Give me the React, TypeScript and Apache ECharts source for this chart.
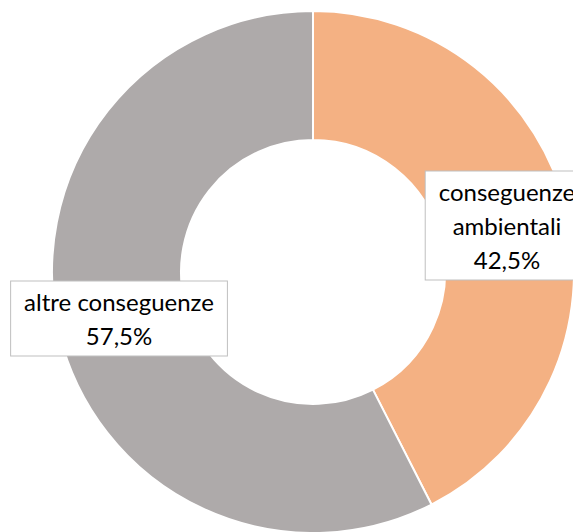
import React, { useEffect, useRef } from "react";
import * as echarts from "echarts";

const categories = ["conseguenze\nambientali", "altre conseguenze"];
const values = [42.5, 57.5];
const colors = ["#F4B183", "#AEAAAA"];

export default function App() {
  const ref = useRef<HTMLDivElement>(null);
  useEffect(() => {
    document.body.style.margin = "0";
    if (!ref.current) return;
    const chart = echarts.init(ref.current, null, { renderer: "svg" });
    const total = values.reduce((a, b) => a + b, 0);
    chart.setOption({
      animation: false,
      backgroundColor: "#ffffff",
      series: [
        {
          type: "pie",
          center: [313, 272],
          radius: [132, 261],
          startAngle: 90,
          clockwise: true,
          avoidLabelOverlap: false,
          itemStyle: { borderColor: "#ffffff", borderWidth: 2 },
          data: categories.map((c, i) => ({
            name: c,
            value: values[i],
            itemStyle: { color: colors[i] },
          })),
          label: {
            show: true,
            position: "inside",
            formatter: (p: any) =>
              p.name + "\n" + ((p.value / total) * 100).toFixed(1).replace(".", ",") + "%",
            fontFamily: "Lato",
            fontSize: 24,
            lineHeight: 34,
            color: "#000000",
            backgroundColor: "#ffffff",
            borderColor: "#BFBFBF",
            borderWidth: 1,
            padding: [3, 13],
            align: "center",
          },
          labelLine: { show: false },
        },
      ],
    });
    return () => chart.dispose();
  }, []);
  return <div ref={ref} style={{ width: 573, height: 532 }} />;
}
